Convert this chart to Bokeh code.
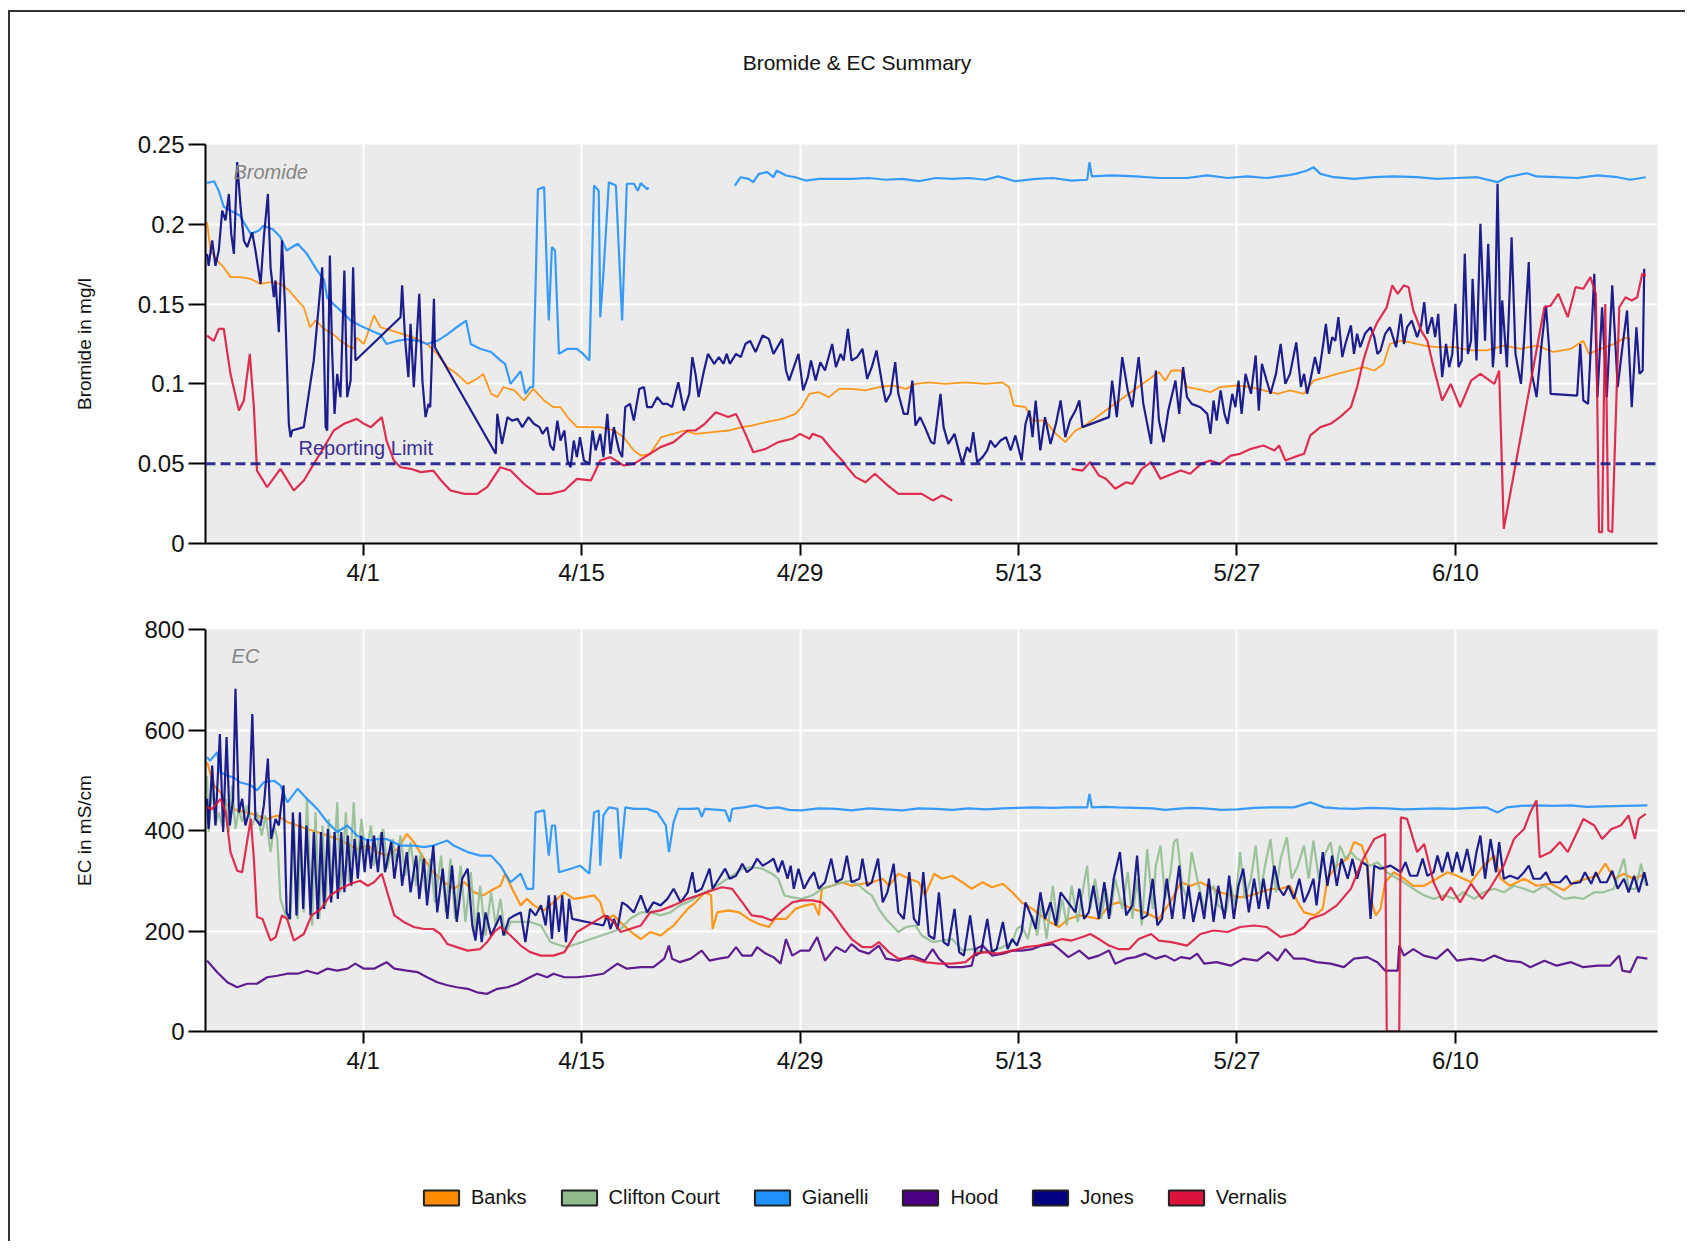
import numpy as np
from bokeh.plotting import figure
from bokeh.models import Range1d, FixedTicker, Span, Label, Legend, LegendItem, Div
from bokeh.layouts import column
from bokeh.embed import file_html
from bokeh.resources import INLINE

NAN = float("nan")

TITLE = "Bromide & EC Summary"
# x is measured in days after 3/22
X_TICKS = [10, 24, 38, 52, 66, 80]
X_LABELS = ["4/1", "4/15", "4/29", "5/13", "5/27", "6/10"]
BR_TICKS = [0, 0.05, 0.1, 0.15, 0.2, 0.25]
BR_LABELS = ["0", "0.05", "0.1", "0.15", "0.2", "0.25"]
EC_TICKS = [0, 200, 400, 600, 800]
EC_LABELS = ["0", "200", "400", "600", "800"]
REPORTING_LIMIT = 0.05
STATIONS = ["Banks", "Clifton Court", "Gianelli", "Hood", "Jones", "Vernalis"]
COLORS = ["#FF8C00", "#8FBC8F", "#1E90FF", "#4B0082", "#000080", "#DC143C"]

# ---------------- Bromide (mg/l): (day, value) ----------------
BR_BANKS = [(0,0.2013),(0.22,0.1836),(0.65,0.1773),(1.07,0.173),(1.5,0.1669),(2.15,0.1669),(2.8,0.1658),(3.4,0.1627),(4.07,0.1637),(4.7,0.1627),(5.25,0.1585),(5.8,0.1523),(6.2,0.148),(6.6,0.1355),(6.95,0.1397),(7.5,0.1345),(8.1,0.131),(8.55,0.127),(9.0,0.124),(9.4,0.122),(9.6,0.129),(10.05,0.125),(10.7,0.143),(11.1,0.1355),(11.8,0.1335),(12.6,0.131),(13.5,0.128),(14.1,0.125),(14.75,0.1188),(15.4,0.1105),(16.0,0.1063),(16.7,0.100),(17.3,0.1032),(17.7,0.1063),(18.2,0.0938),(18.6,0.0917),(19.0,0.098),(19.7,0.0959),(20.3,0.0896),(20.9,0.0969),(21.6,0.0896),(22.2,0.0854),(22.65,0.0854),(23.1,0.0792),(23.7,0.0729),(24.36,0.0729),(25.2,0.0729),(26.1,0.0708),(26.7,0.0666),(27.35,0.0583),(27.8,0.0551),(28.4,0.0562),(29.1,0.0666),(29.9,0.0687),(30.6,0.0708),(31.3,0.0687),(32.4,0.0698),(33.4,0.0708),(34.3,0.0729),(34.9,0.0739),(35.8,0.076),(36.86,0.0781),(37.7,0.0812),(38.1,0.0854),(38.6,0.0938),(39.2,0.0948),(39.85,0.0917),(40.5,0.0969),(41.3,0.0969),(42.2,0.0959),(43.05,0.098),(43.9,0.099),(44.8,0.0969),(45.4,0.100),(46.25,0.101),(47.3,0.100),(48.6,0.101),(49.9,0.100),(50.95,0.101),(51.4,0.098),(51.7,0.0865),(52.45,0.0854),(52.9,0.077),(53.7,0.077),(54.4,0.0687),(55.0,0.0635),(55.65,0.0708),(56.1,0.0729),(61.0,0.1074),(61.4,0.102),(61.8,0.1084),(62.4,0.1084),(62.8,0.098),(63.45,0.0969),(64.3,0.0948),(64.9,0.098),(66.0,0.099),(66.9,0.098),(67.7,0.0959),(68.6,0.0938),(69.4,0.0959),(70.3,0.0938),(70.9,0.102),(71.6,0.104),(72.4,0.1063),(73.3,0.1084),(74.1,0.1105),(74.8,0.1084),(75.4,0.1126),(75.8,0.125),(76.5,0.127),(77.1,0.126),(78.0,0.124),(78.8,0.123),(79.9,0.123),(81.0,0.121),(82.0,0.121),(83.1,0.124),(84.2,0.122),(85.2,0.124),(86.3,0.12),(87.4,0.122),(88.2,0.127),(88.55,0.1188),(89.3,0.122),(90.15,0.125),(90.9,0.129),(91.2,0.128)]

BR_GIANELLI = [(0,0.226),(0.45,0.227),(0.75,0.221),(1.07,0.211),(1.7,0.2076),(2.1,0.2055),(2.8,0.194),(3.3,0.196),(3.6,0.199),(4.2,0.197),(4.7,0.192),(5.1,0.1836),(5.8,0.1878),(6.4,0.1815),(7.06,0.171),(7.5,0.165),(7.7,0.154),(8.1,0.150),(8.55,0.146),(9.2,0.1397),(9.8,0.1366),(10.5,0.1335),(11.1,0.131),(11.5,0.125),(12.2,0.127),(12.8,0.128),(13.5,0.127),(14.1,0.125),(14.75,0.127),(15.4,0.131),(16.0,0.1355),(16.6,0.1397),(16.9,0.125),(17.5,0.122),(18.2,0.12),(18.8,0.1147),(19.1,0.1126),(19.45,0.100),(20.1,0.108),(20.4,0.0938),(20.7,0.098),(20.9,0.098),(21.2,0.222),(21.6,0.2233),(21.8,0.165),(21.9,0.1397),(22.1,0.1857),(22.3,0.1836),(22.55,0.1188),(23.1,0.122),(23.7,0.122),(24.1,0.1188),(24.5,0.1147),(24.8,0.2243),(25.1,0.221),(25.2,0.1418),(25.4,0.169),(25.75,0.2264),(26.2,0.2243),(26.4,0.1815),(26.6,0.1397),(26.9,0.2254),(27.35,0.2254),(27.6,0.221),(27.8,0.2258),(28.2,0.222),(28.3,0.223),(31.0,NAN),(33.82,0.2243),(34.2,0.2295),(34.7,0.2285),(35.0,0.2264),(35.36,0.2316),(35.9,0.2327),(36.3,0.2295),(36.5,0.2337),(37.1,0.2306),(37.7,0.2295),(38.35,0.2274),(39.2,0.2285),(40.3,0.2285),(41.3,0.2285),(42.4,0.229),(43.5,0.2279),(44.55,0.2285),(45.6,0.227),(46.7,0.229),(47.75,0.2285),(48.8,0.229),(49.9,0.2279),(50.7,0.23),(51.8,0.227),(53.1,0.2285),(54.2,0.229),(55.4,0.2274),(56.4,0.2279),(56.55,0.239),(56.7,0.23),(58.0,0.2306),(59.5,0.23),(61.0,0.229),(62.8,0.229),(64.1,0.2306),(65.4,0.229),(66.65,0.23),(67.9,0.229),(69.2,0.2306),(69.75,0.2316),(70.5,0.2337),(70.9,0.2358),(71.35,0.2316),(72.2,0.2295),(73.5,0.2285),(74.8,0.2295),(76.05,0.23),(77.55,0.2295),(78.8,0.2285),(80.1,0.229),(81.4,0.2295),(82.7,0.2264),(83.3,0.2295),(84.6,0.232),(85.2,0.23),(86.5,0.2295),(87.8,0.229),(89.1,0.2306),(90.4,0.2295),(91.2,0.2279),(92.2,0.2295)]

BR_JONES = [(0,0.1815),(0.1,0.174),(0.33,0.1899),(0.54,0.174),(0.75,0.1836),(0.97,0.2086),(1.18,0.2024),(1.4,0.219),(1.55,0.194),(1.72,0.1815),(1.93,0.239),(2.15,0.2107),(2.36,0.1899),(2.57,0.1857),(2.89,0.195),(3.1,0.1836),(3.43,0.1627),(3.64,0.1919),(3.9,0.219),(4.07,0.173),(4.28,0.1543),(4.39,0.1648),(4.6,0.1324),(4.8,0.1899),(5.0,0.148),(5.24,0.075),(5.35,0.0666),(5.46,0.0708),(6.2,0.0729),(6.84,0.1147),(7.38,0.173),(7.6,0.0729),(7.7,0.0708),(7.87,0.1805),(8.02,0.1188),(8.17,0.0812),(8.34,0.1063),(8.55,0.0917),(8.8,0.171),(8.98,0.0917),(9.2,0.1021),(9.36,0.173),(9.51,0.1147),(12.4,0.1418),(12.5,0.1617),(12.7,0.127),(12.9,0.1042),(13.04,0.1376),(13.25,0.098),(13.6,0.1564),(13.8,0.1021),(14.0,0.0792),(14.2,0.0875),(14.3,0.0854),(14.54,0.1533),(14.6,0.123),(18.5,0.0562),(18.6,0.0812),(18.9,0.0624),(19.25,0.0792),(19.55,0.077),(19.9,0.0781),(20.2,0.0729),(20.6,0.0792),(20.94,0.075),(21.3,0.0729),(21.5,0.0687),(21.8,0.0729),(22.0,0.0614),(22.2,0.0583),(22.45,0.077),(22.65,0.0645),(22.9,0.0708),(23.1,0.052),(23.3,0.0478),(23.5,0.0645),(23.7,0.0541),(23.9,0.0666),(24.15,0.052),(24.5,0.0499),(24.7,0.0708),(24.9,0.0583),(25.2,0.0687),(25.4,0.0541),(25.65,0.0812),(25.85,0.0562),(26.07,0.0729),(26.4,0.0583),(26.6,0.0541),(26.8,0.0854),(27.1,0.0875),(27.35,0.077),(27.7,0.0969),(28.0,0.098),(28.2,0.0854),(28.5,0.0854),(28.85,0.0917),(29.2,0.0875),(29.5,0.0875),(29.8,0.0854),(30.2,0.101),(30.55,0.0833),(30.9,0.0938),(31.1,0.1168),(31.3,0.1063),(31.5,0.0917),(31.8,0.1063),(32.1,0.1188),(32.5,0.1126),(32.8,0.1168),(33.1,0.1126),(33.3,0.1188),(33.5,0.1126),(33.9,0.1188),(34.2,0.1168),(34.5,0.125),(34.8,0.127),(35.15,0.1199),(35.6,0.1303),(36.0,0.1282),(36.3,0.1188),(36.86,0.1282),(37.1,0.1084),(37.3,0.1021),(37.6,0.1105),(37.9,0.1188),(38.2,0.0959),(38.5,0.1042),(38.7,0.1147),(39.0,0.1021),(39.3,0.1136),(39.6,0.1084),(40.06,0.125),(40.3,0.1105),(40.6,0.1188),(40.8,0.1147),(41.07,0.1345),(41.3,0.1147),(41.66,0.1168),(42.0,0.122),(42.3,0.1032),(42.6,0.1105),(42.9,0.1209),(43.3,0.098),(43.5,0.0886),(43.8,0.0938),(44.1,0.1136),(44.3,0.0938),(44.65,0.0812),(44.9,0.0812),(45.2,0.1021),(45.4,0.0739),(45.7,0.0792),(46.0,0.0729),(46.4,0.0635),(46.6,0.0624),(47.0,0.0938),(47.2,0.0729),(47.5,0.0624),(47.9,0.0687),(48.2,0.0572),(48.4,0.0499),(48.7,0.0604),(48.9,0.0572),(49.1,0.0698),(49.35,0.051),(49.7,0.0541),(50.0,0.0583),(50.2,0.0645),(50.5,0.0604),(50.85,0.0645),(51.2,0.0666),(51.5,0.0583),(51.8,0.0677),(52.2,0.052),(52.45,0.075),(52.7,0.0833),(52.9,0.0666),(53.1,0.0896),(53.4,0.0583),(53.7,0.0792),(54.05,0.0624),(54.4,0.075),(54.7,0.0896),(55.0,0.0666),(55.3,0.077),(55.65,0.0833),(55.9,0.0896),(56.1,0.0729),(57.8,0.0792),(58.0,0.1021),(58.3,0.0792),(58.65,0.1168),(59.0,0.0959),(59.3,0.0854),(59.7,0.1168),(60.0,0.0875),(60.5,0.0624),(60.8,0.1084),(61.0,0.077),(61.3,0.0635),(61.6,0.0833),(62.06,0.1021),(62.3,0.0812),(62.55,0.1105),(62.8,0.0917),(63.1,0.0875),(63.66,0.0854),(64.1,0.0812),(64.3,0.0687),(64.5,0.0896),(64.7,0.077),(64.95,0.0959),(65.2,0.0812),(65.4,0.075),(65.7,0.0938),(65.9,0.0854),(66.1,0.1021),(66.3,0.0812),(66.55,0.1063),(66.9,0.0938),(67.2,0.1178),(67.4,0.0833),(67.6,0.1126),(67.9,0.1021),(68.15,0.0938),(68.5,0.1063),(68.8,0.125),(69.1,0.100),(69.4,0.1063),(69.8,0.126),(70.1,0.098),(70.3,0.1063),(70.5,0.0938),(70.7,0.1021),(71.0,0.1168),(71.25,0.1063),(71.5,0.123),(71.7,0.1376),(71.9,0.1188),(72.1,0.1293),(72.3,0.127),(72.5,0.1418),(72.75,0.1168),(72.95,0.125),(73.3,0.1366),(73.5,0.1188),(73.7,0.1314),(73.9,0.123),(74.2,0.1314),(74.56,0.1355),(74.8,0.1293),(75.0,0.1188),(75.2,0.1209),(75.5,0.1314),(75.8,0.1355),(76.2,0.123),(76.5,0.1439),(76.7,0.125),(76.9,0.1355),(77.2,0.1397),(77.55,0.1293),(77.8,0.1366),(78.0,0.1512),(78.2,0.1314),(78.5,0.1418),(78.7,0.1293),(78.9,0.1439),(79.15,0.1042),(79.4,0.125),(79.6,0.1105),(79.8,0.1188),(80.0,0.1502),(80.2,0.1105),(80.4,0.1147),(80.6,0.1815),(80.8,0.1188),(81.0,0.127),(81.1,0.1658),(81.35,0.1147),(81.6,0.2003),(81.9,0.127),(82.1,0.1878),(82.4,0.1105),(82.5,0.123),(82.7,0.2254),(82.9,0.1188),(83.0,0.1523),(83.3,0.1105),(83.6,0.1919),(83.85,0.1188),(84.2,0.100),(84.4,0.127),(84.7,0.1763),(84.9,0.1063),(85.2,0.0917),(85.5,0.123),(85.8,0.1491),(86.0,0.123),(86.1,0.0938),(87.8,0.0927),(88.0,0.125),(88.2,0.0896),(88.5,0.0875),(88.9,0.169),(89.1,0.0917),(89.4,0.148),(89.7,0.0917),(90.05,0.1617),(90.4,0.098),(90.7,0.123),(91.0,0.146),(91.3,0.0854),(91.6,0.1355),(91.8,0.1063),(92.0,0.1084),(92.1,0.1721)]

BR_VERNALIS = [(0,0.1303),(0.43,0.127),(0.75,0.1345),(1.07,0.1345),(1.5,0.1063),(2.04,0.0833),(2.36,0.0896),(2.74,0.1188),(3.0,0.0854),(3.2,0.0457),(3.85,0.0353),(4.7,0.0468),(5.56,0.0332),(6.2,0.0395),(6.84,0.0499),(7.5,0.0604),(8.12,0.0708),(8.77,0.075),(9.6,0.0781),(10.05,0.075),(10.5,0.0729),(11.2,0.0792),(11.5,0.0645),(11.97,0.052),(12.4,0.0478),(13.04,0.0468),(13.7,0.0447),(14.5,0.0457),(15.0,0.0395),(15.6,0.0332),(16.5,0.0311),(17.3,0.0311),(17.95,0.0353),(18.8,0.0478),(19.45,0.0457),(20.3,0.0374),(21.15,0.0311),(22.0,0.0311),(22.9,0.0332),(23.7,0.0405),(24.6,0.0395),(25.2,0.052),(25.85,0.0541),(26.7,0.0489),(27.35,0.0499),(28.2,0.0551),(29.06,0.0604),(29.9,0.0635),(30.8,0.0708),(31.3,0.0708),(31.9,0.075),(32.6,0.0823),(33.4,0.0792),(33.9,0.0812),(34.5,0.0687),(35.0,0.0572),(35.8,0.0593),(36.6,0.0635),(37.5,0.0656),(38.0,0.0687),(38.6,0.0656),(38.8,0.0687),(39.4,0.0666),(40.1,0.0583),(40.7,0.052),(41.1,0.0468),(41.56,0.0416),(42.2,0.0384),(42.8,0.0437),(43.5,0.0374),(44.3,0.0311),(45.2,0.0311),(45.8,0.0311),(46.5,0.027),(47.1,0.0301),(47.75,0.027),(51.5,NAN),(55.4,0.0468),(56.1,0.0457),(56.6,0.051),(57.15,0.0426),(57.6,0.0405),(58.2,0.0343),(58.9,0.0384),(59.3,0.0374),(59.9,0.0468),(60.5,0.051),(61.1,0.0405),(61.6,0.0426),(62.4,0.0457),(63.0,0.0437),(63.7,0.0499),(64.3,0.052),(64.9,0.0499),(65.6,0.0551),(66.2,0.0562),(66.9,0.0593),(67.7,0.0614),(68.4,0.0583),(68.7,0.0614),(69.1,0.052),(69.65,0.0541),(70.3,0.0562),(70.7,0.0677),(71.35,0.0729),(72.0,0.075),(72.6,0.0792),(73.3,0.0854),(73.7,0.098),(74.1,0.1147),(74.56,0.1293),(75.0,0.1387),(75.6,0.148),(75.95,0.1617),(76.3,0.1564),(76.7,0.1617),(77.0,0.1606),(77.3,0.146),(77.8,0.1335),(78.2,0.127),(78.6,0.1105),(79.15,0.0896),(79.7,0.100),(80.3,0.0854),(81.0,0.102),(81.6,0.1063),(82.5,0.100),(82.8,0.1084),(83.1,0.0092),(85.7,0.148),(86.1,0.149),(86.6,0.1564),(87.2,0.1418),(87.7,0.1606),(88.2,0.1596),(88.65,0.1669),(89.0,0.1564),(89.2,0.0071),(89.4,0.0071),(89.6,0.150),(89.8,0.0081),(90.05,0.0071),(90.5,0.148),(90.9,0.1543),(91.3,0.1523),(91.65,0.1543),(91.97,0.169),(92.2,0.168)]

# ---------------- EC (mS/cm): (day, value) ----------------
EC_BANKS = [(0,536),(0.43,490),(0.86,476),(1.3,450),(1.93,440),(2.57,436),(3.2,430),(3.85,423),(4.5,430),(5.13,417),(5.8,410),(6.4,403),(7.06,397),(7.7,390),(8.34,383),(9.0,373),(9.6,363),(10.3,370),(10.9,357),(11.5,350),(12.2,363),(12.8,393),(13.25,377),(13.9,344),(14.5,317),(15.2,297),(15.8,284),(16.5,297),(17.1,277),(17.7,271),(18.4,284),(18.8,290),(19.1,314),(19.55,284),(20.1,251),(20.5,264),(20.94,251),(21.6,241),(22.2,257),(22.9,277),(23.5,264),(24.15,267),(24.8,271),(25.2,257),(25.5,224),(26.07,231),(26.7,211),(27.35,194),(27.8,184),(28.4,198),(29.06,191),(29.9,211),(30.8,244),(31.3,257),(31.9,277),(32.3,271),(32.4,204),(32.7,237),(33.4,241),(34.1,237),(34.7,224),(35.36,214),(36.0,208),(36.4,224),(37.1,224),(37.7,244),(38.35,251),(38.9,254),(39.2,231),(39.4,284),(40.06,290),(40.7,297),(41.3,290),(42.0,294),(42.6,297),(43.3,304),(43.7,290),(44.3,314),(45.0,304),(45.6,297),(46.0,271),(46.6,314),(47.1,304),(47.75,310),(48.4,297),(49.0,284),(49.7,297),(50.3,287),(51.0,294),(51.6,277),(52.2,257),(52.9,244),(53.3,234),(54.0,218),(54.6,208),(55.2,224),(55.9,231),(56.5,228),(57.15,224),(57.8,251),(58.4,257),(59.3,244),(60.1,237),(61.0,224),(61.85,264),(62.4,297),(63.0,290),(63.66,297),(64.3,287),(64.9,277),(65.6,271),(66.2,267),(66.9,271),(67.5,277),(68.2,284),(68.8,284),(69.4,290),(69.9,257),(70.3,237),(71.0,231),(71.5,244),(71.8,304),(72.4,330),(73.1,344),(73.5,377),(74.0,370),(74.35,337),(74.56,264),(74.9,231),(75.2,244),(75.5,297),(76.05,317),(76.7,304),(77.3,290),(77.97,290),(78.8,304),(79.5,317),(80.1,310),(81.0,297),(81.8,330),(82.5,350),(82.9,304),(83.5,290),(84.4,304),(85.2,290),(86.1,294),(86.95,281),(87.6,297),(88.4,304),(89.1,310),(89.6,334),(90.2,304),(90.8,314),(91.4,304),(92.2,314)]

EC_CLIFTON = [(0,509),(0.1,397),(0.33,490),(0.54,410),(0.75,436),(0.97,410),(1.2,463),(1.4,397),(1.6,490),(1.82,403),(2.04,443),(2.25,417),(2.57,450),(2.89,410),(3.2,436),(3.5,390),(3.75,430),(4.07,357),(4.3,410),(4.5,383),(4.7,264),(4.9,244),(5.13,224),(5.35,224),(5.56,423),(5.8,224),(6.0,383),(6.2,237),(6.4,463),(6.74,211),(6.95,436),(7.2,224),(7.4,410),(7.6,251),(7.8,423),(8.0,264),(8.34,456),(8.55,277),(8.9,436),(9.1,297),(9.4,456),(9.6,330),(9.9,423),(10.15,344),(10.5,410),(10.7,330),(11.0,383),(11.3,403),(11.55,324),(11.9,383),(12.1,337),(12.4,390),(12.7,310),(13.04,377),(13.4,290),(13.7,357),(14.0,277),(14.3,344),(14.6,257),(15.0,350),(15.3,237),(15.6,344),(15.9,224),(16.25,330),(16.56,218),(16.9,317),(17.2,198),(17.5,290),(17.85,191),(18.2,277),(18.5,211),(18.8,264),(19.1,191),(19.45,218),(20.1,218),(20.7,218),(21.4,211),(22.0,178),(22.65,171),(23.1,168),(26.5,204),(27.1,224),(27.8,237),(28.4,237),(29.06,231),(29.7,237),(30.3,251),(31.0,260),(31.5,271),(32.4,284),(33.0,297),(33.65,310),(34.3,324),(34.9,327),(35.6,324),(36.2,314),(36.6,304),(37.0,271),(37.5,267),(38.1,264),(38.8,271),(39.4,284),(40.06,290),(40.7,297),(41.3,300),(41.8,290),(42.3,277),(42.6,271),(43.05,244),(43.5,224),(43.9,211),(44.3,198),(44.8,208),(45.4,211),(45.8,191),(46.5,178),(47.1,181),(47.75,184),(48.4,161),(49.0,164),(49.7,158),(50.3,161),(51.0,168),(51.6,178),(51.9,204),(52.2,211),(52.6,184),(52.9,231),(53.2,191),(53.5,257),(53.8,184),(54.2,290),(54.5,211),(54.8,264),(55.1,211),(55.4,290),(55.8,218),(56.1,277),(56.4,330),(56.6,244),(56.9,304),(57.3,224),(57.6,284),(57.9,231),(58.2,304),(58.65,244),(59.0,317),(59.3,224),(59.6,304),(59.9,211),(60.25,363),(60.6,244),(60.8,330),(61.1,370),(61.4,264),(61.75,317),(61.96,377),(62.17,383),(62.5,290),(62.8,264),(63.1,357),(63.45,304),(63.9,244),(64.2,277),(64.5,290),(64.8,251),(65.3,237),(65.6,290),(65.9,251),(66.2,357),(66.5,264),(66.9,304),(67.2,370),(67.5,277),(67.8,330),(68.15,383),(68.5,277),(68.8,344),(69.2,387),(69.5,304),(69.9,330),(70.3,370),(70.6,304),(70.9,380),(71.25,304),(71.6,350),(72.0,377),(72.3,317),(72.6,370),(72.95,344),(73.3,357),(73.7,344),(74.1,337),(74.56,330),(75.0,337),(75.6,317),(76.3,304),(76.7,297),(77.3,284),(77.97,271),(78.6,264),(79.3,271),(79.9,264),(80.5,277),(81.2,264),(81.8,277),(82.5,284),(83.1,277),(83.75,290),(84.4,284),(85.0,277),(85.7,290),(86.3,277),(86.95,264),(87.6,267),(88.2,264),(88.9,277),(89.5,277),(90.15,284),(90.8,344),(91.1,284),(91.55,284),(91.9,334),(92.2,290)]

EC_GIANELLI = [(0,546),(0.2,539),(0.65,556),(0.86,516),(1.3,509),(1.7,506),(2.1,496),(2.8,490),(3.2,480),(3.64,496),(4.3,499),(4.7,490),(5.15,456),(5.8,483),(6.4,463),(7.06,443),(7.7,417),(8.34,397),(9.0,410),(9.6,390),(10.3,380),(10.9,383),(11.5,383),(12.4,370),(13.25,370),(13.9,367),(14.5,370),(15.4,380),(15.8,370),(16.7,357),(17.5,350),(18.2,350),(18.8,330),(19.45,297),(20.1,314),(20.5,284),(20.9,284),(21.05,436),(21.6,440),(21.9,350),(22.1,410),(22.3,410),(22.55,317),(23.3,324),(23.9,330),(24.5,314),(24.8,436),(25.1,440),(25.2,330),(25.4,430),(25.75,446),(26.3,443),(26.5,344),(26.8,446),(27.35,443),(28.2,443),(28.85,436),(29.4,410),(29.6,357),(29.9,417),(30.2,443),(31.0,443),(31.5,444),(31.7,427),(31.9,443),(33.2,440),(33.5,417),(33.65,443),(34.4,446),(35.15,450),(35.9,444),(36.6,446),(37.3,441),(38.1,440),(39.2,444),(40.3,443),(41.3,440),(42.4,444),(43.5,442),(44.55,440),(45.6,444),(46.7,443),(47.75,441),(48.8,444),(49.9,442),(51.0,444),(52.0,445),(53.1,446),(54.2,445),(55.2,446),(56.4,446),(56.55,473),(56.7,446),(57.5,447),(58.4,446),(59.5,445),(60.6,444),(61.4,441),(62.1,443),(63.0,445),(63.9,444),(65.0,441),(66.0,442),(67.1,445),(68.2,446),(69.65,446),(70.7,456),(71.6,446),(72.5,444),(73.5,443),(74.5,445),(75.6,444),(76.7,442),(77.8,443),(78.9,444),(79.9,443),(81.0,445),(82.0,446),(82.7,436),(83.3,446),(84.2,449),(85.2,450),(86.3,449),(87.4,450),(88.4,447),(89.5,448),(90.9,449),(92.3,450)]

EC_HOOD = [(0,141),(0.65,118),(1.3,98),(1.93,88),(2.57,95),(3.2,95),(3.85,108),(4.5,111),(5.13,115),(5.8,115),(6.4,121),(7.06,115),(7.7,125),(8.34,121),(9.0,125),(9.5,135),(10.05,125),(10.7,125),(11.5,138),(12.0,125),(12.8,121),(13.5,118),(14.1,108),(14.75,98),(15.4,92),(16.0,88),(16.7,85),(17.3,78),(17.95,75),(18.6,85),(19.25,88),(19.9,95),(20.5,105),(21.15,115),(21.8,108),(22.2,115),(22.9,108),(23.7,108),(24.6,111),(25.4,115),(26.3,135),(26.9,125),(27.8,128),(28.6,128),(29.3,145),(29.6,171),(29.8,145),(30.3,138),(31.0,145),(31.7,161),(32.2,141),(32.8,145),(33.4,148),(33.9,168),(34.3,151),(34.9,151),(35.25,168),(35.8,155),(36.3,148),(36.75,135),(37.1,184),(37.5,151),(38.03,161),(38.6,161),(39.1,188),(39.6,141),(40.3,168),(40.9,158),(41.3,174),(41.8,161),(42.4,155),(43.05,171),(43.5,145),(44.3,141),(45.2,151),(46.0,141),(46.5,164),(46.9,145),(47.5,128),(48.4,128),(49.0,131),(49.25,164),(49.7,171),(50.3,151),(51.0,155),(51.6,161),(52.2,161),(52.9,164),(53.5,171),(54.2,174),(54.6,164),(55.2,148),(55.9,161),(56.5,145),(57.15,151),(57.8,161),(58.2,135),(58.9,145),(59.5,148),(60.1,155),(60.8,145),(61.4,151),(62.0,141),(62.4,148),(63.0,145),(63.45,155),(63.9,135),(64.7,138),(65.6,131),(66.4,145),(67.3,141),(68.0,158),(68.6,141),(69.1,164),(69.65,145),(70.3,145),(71.1,138),(72.0,135),(72.85,128),(73.5,145),(74.35,148),(75.0,138),(75.5,121),(76.3,121),(76.4,171),(76.7,151),(77.3,164),(77.97,151),(78.8,145),(79.5,164),(80.1,141),(81.0,145),(81.8,141),(82.5,151),(83.3,141),(84.2,138),(84.8,128),(85.7,141),(86.5,131),(87.4,138),(88.2,128),(89.1,131),(89.9,131),(90.5,151),(90.7,121),(91.2,118),(91.65,148),(92.3,145)]

EC_JONES = [(0,463),(0.1,403),(0.33,529),(0.54,410),(0.82,592),(1.03,397),(1.25,586),(1.46,410),(1.67,463),(1.82,682),(2.04,436),(2.25,463),(2.46,410),(2.68,436),(2.9,632),(3.1,423),(3.43,410),(3.64,450),(3.9,543),(4.1,383),(4.39,423),(4.6,410),(4.9,490),(5.1,237),(5.3,224),(5.5,436),(5.73,231),(5.95,436),(6.16,244),(6.37,410),(6.63,231),(6.84,397),(7.1,224),(7.3,397),(7.5,244),(7.74,403),(7.95,257),(8.17,397),(8.38,264),(8.6,397),(8.8,277),(9.02,390),(9.24,290),(9.45,383),(9.66,304),(9.88,390),(10.1,317),(10.3,383),(10.5,324),(10.7,390),(10.95,317),(11.2,397),(11.4,317),(11.8,377),(12.0,304),(12.3,370),(12.5,290),(12.8,357),(13.04,277),(13.4,350),(13.6,264),(13.9,344),(14.1,251),(14.5,370),(14.75,237),(15.1,324),(15.4,224),(15.7,330),(16.0,218),(16.35,304),(16.7,324),(17.0,211),(17.2,181),(17.4,237),(17.6,178),(17.85,237),(18.2,191),(18.5,211),(18.8,231),(19.0,191),(19.35,224),(19.7,231),(20.1,237),(20.4,178),(20.7,244),(21.05,231),(21.4,251),(21.7,211),(21.9,271),(22.1,184),(22.3,271),(22.55,198),(22.76,271),(23.0,178),(23.2,264),(23.4,224),(25.4,211),(25.65,231),(25.85,204),(26.07,224),(26.3,204),(26.6,257),(26.9,251),(27.35,237),(27.8,271),(28.2,237),(28.6,257),(29.06,251),(29.5,264),(29.9,284),(30.35,257),(30.8,277),(31.1,317),(31.3,277),(31.7,284),(32.2,324),(32.4,284),(32.8,304),(33.2,324),(33.5,304),(33.9,310),(34.3,334),(34.6,317),(34.9,324),(35.25,344),(35.6,330),(36.0,337),(36.3,344),(36.6,317),(36.86,340),(37.2,304),(37.4,330),(37.6,284),(37.9,324),(38.25,284),(38.6,304),(38.9,317),(39.2,284),(39.6,297),(40.0,344),(40.3,297),(40.7,304),(41.0,350),(41.3,297),(41.8,304),(42.0,344),(42.3,290),(42.6,297),(43.0,344),(43.3,257),(43.6,277),(44.0,334),(44.3,237),(44.65,224),(45.0,317),(45.3,224),(45.6,211),(45.9,317),(46.25,191),(46.6,184),(46.9,277),(47.2,178),(47.5,171),(47.9,244),(48.2,158),(48.5,151),(48.9,231),(49.25,151),(49.6,158),(50.0,224),(50.3,158),(50.6,164),(51.0,218),(51.3,164),(51.6,184),(51.9,171),(52.2,198),(52.45,257),(52.8,231),(53.1,204),(53.4,277),(53.7,224),(54.05,257),(54.4,211),(54.7,277),(55.65,237),(55.9,284),(56.2,224),(56.5,237),(56.8,290),(57.15,224),(57.5,297),(57.8,224),(58.1,304),(58.5,357),(58.9,231),(59.3,251),(59.6,350),(59.9,224),(60.25,231),(60.6,304),(60.9,211),(61.2,224),(61.5,304),(61.85,224),(62.3,330),(62.6,224),(62.9,290),(63.2,218),(63.6,277),(63.9,224),(64.2,304),(64.5,218),(64.8,290),(65.2,224),(65.5,310),(65.8,224),(66.1,290),(66.4,324),(66.76,237),(67.1,304),(67.4,244),(67.7,304),(68.0,244),(68.4,330),(68.7,284),(69.0,271),(69.3,290),(69.65,264),(70.0,304),(70.3,257),(70.6,277),(70.9,304),(71.1,251),(71.5,357),(71.8,290),(72.1,350),(72.4,290),(72.7,344),(73.1,304),(73.4,344),(73.7,304),(74.0,337),(74.35,330),(74.56,224),(74.8,330),(75.2,324),(75.85,330),(76.5,317),(76.8,337),(77.1,310),(77.55,310),(77.9,344),(78.2,310),(78.6,317),(78.85,350),(79.15,317),(79.5,357),(79.8,317),(80.1,357),(80.4,317),(80.75,363),(81.1,310),(81.35,357),(81.6,390),(81.9,304),(82.25,383),(82.6,317),(82.8,377),(83.1,304),(83.5,310),(84.0,304),(84.4,317),(84.7,330),(85.0,304),(85.45,304),(85.8,317),(86.1,297),(86.7,297),(87.1,310),(87.4,294),(88.0,297),(88.3,317),(88.7,294),(89.0,317),(89.3,297),(89.7,297),(90.05,320),(90.4,284),(90.8,304),(91.1,277),(91.45,310),(91.75,277),(92.1,317),(92.3,290)]

EC_VERNALIS = [(0,446),(0.33,443),(0.86,463),(1.2,436),(1.5,357),(1.93,320),(2.25,317),(2.8,423),(3.0,344),(3.2,228),(3.55,224),(4.07,181),(4.4,188),(4.8,231),(5.13,224),(5.56,181),(6.2,194),(6.7,231),(7.3,244),(7.9,271),(8.55,284),(9.2,294),(9.8,300),(10.3,290),(10.7,297),(11.2,314),(11.55,277),(12.0,231),(12.6,218),(13.25,208),(13.9,204),(14.5,204),(14.96,194),(15.4,174),(16.0,168),(16.7,161),(17.5,164),(17.95,178),(18.4,198),(18.8,208),(19.45,191),(20.1,171),(20.7,158),(21.4,151),(22.2,151),(22.9,158),(23.7,198),(25.5,231),(26.07,218),(26.5,198),(27.1,204),(27.8,211),(28.4,237),(29.06,241),(29.9,251),(30.8,264),(31.5,271),(32.4,281),(33.0,287),(33.65,284),(34.3,257),(34.9,231),(35.6,228),(36.2,221),(36.86,241),(37.5,257),(38.1,261),(38.8,261),(39.4,257),(40.06,237),(40.7,208),(41.3,184),(42.0,168),(42.6,168),(43.05,178),(43.7,158),(44.3,145),(45.2,145),(46.0,138),(46.9,135),(47.75,135),(48.6,138),(49.25,155),(49.9,158),(50.7,155),(51.6,161),(52.45,168),(53.3,171),(54.2,178),(54.8,184),(55.4,181),(56.1,188),(56.6,194),(57.15,184),(57.8,171),(58.4,164),(59.1,164),(59.7,184),(60.5,194),(61.0,181),(61.8,178),(62.8,171),(63.66,194),(64.5,201),(65.4,198),(66.2,208),(67.1,211),(67.9,208),(68.8,188),(69.65,194),(70.3,208),(70.7,224),(71.6,234),(72.4,251),(73.3,284),(74.1,344),(74.8,383),(75.5,393),(75.6,0),(76.4,0),(76.5,426),(76.9,423),(77.55,357),(78.0,373),(78.6,297),(79.15,261),(79.7,287),(80.3,257),(81.0,294),(81.7,264),(82.25,287),(83.1,330),(83.75,383),(84.4,403),(84.8,436),(85.2,460),(85.4,347),(86.1,357),(86.7,377),(87.2,357),(87.7,390),(88.2,423),(88.9,410),(89.4,383),(90.0,403),(90.6,410),(91.1,430),(91.5,383),(91.75,423),(92.2,433)]

BROMIDE = {"Banks": BR_BANKS, "Gianelli": BR_GIANELLI, "Jones": BR_JONES, "Vernalis": BR_VERNALIS}
EC = {"Banks": EC_BANKS, "Clifton Court": EC_CLIFTON, "Gianelli": EC_GIANELLI,
      "Hood": EC_HOOD, "Jones": EC_JONES, "Vernalis": EC_VERNALIS}

FONT = "Liberation Sans"
COLOR_OF = dict(zip(STATIONS, COLORS))
FULL_W = 1675


def unzip(pairs):
    arr = np.array(pairs, dtype=float)
    return arr[:, 0], arr[:, 1]


def make_fig(y_end, ticks, labels, ylabel, frame_h, mb_top, mb_bottom, label_standoff):
    p = figure(frame_width=1452, frame_height=frame_h,
               x_range=Range1d(-0.1, 92.95), y_range=Range1d(0, y_end),
               output_backend="svg", toolbar_location=None,
               min_border_left=195, min_border_right=28,
               min_border_top=mb_top, min_border_bottom=mb_bottom,
               background_fill_color="#EBEBEB", border_fill_color="white",
               outline_line_color=None)
    p.xaxis.ticker = FixedTicker(ticks=X_TICKS)
    p.xaxis.major_label_overrides = {t: l for t, l in zip(X_TICKS, X_LABELS)}
    p.yaxis.ticker = FixedTicker(ticks=ticks)
    p.yaxis.major_label_overrides = {t: l for t, l in zip(ticks, labels)}
    p.xgrid.ticker = FixedTicker(ticks=X_TICKS)
    p.ygrid.ticker = FixedTicker(ticks=ticks)
    p.grid.grid_line_color = "white"
    p.grid.grid_line_width = 2
    for ax in (p.xaxis[0], p.yaxis[0]):
        ax.axis_line_color = "black"
        ax.axis_line_width = 2
        ax.major_tick_line_color = "black"
        ax.major_tick_line_width = 2
        ax.minor_tick_line_color = None
        ax.major_tick_in = 0
        ax.major_label_text_font = FONT
        ax.major_label_text_font_size = "24px"
        ax.major_label_text_color = "#111111"
    p.xaxis.major_tick_out = 12
    p.yaxis.major_tick_out = 17
    p.xaxis.major_label_standoff = 3
    p.yaxis.major_label_standoff = 4
    p.yaxis.axis_label = ylabel
    p.yaxis.axis_label_text_font = FONT
    p.yaxis.axis_label_text_font_size = "19px"
    p.yaxis.axis_label_text_font_style = "normal"
    p.yaxis.axis_label_text_color = "#111111"
    p.yaxis.axis_label_standoff = label_standoff
    return p


title_div = Div(text=('<div style="width:%dpx;box-sizing:border-box;padding-left:19px;text-align:center;'
                      'font-family:\'Liberation Sans\';font-size:21px;color:#111;padding-top:36px;">'
                      'Bromide &amp; EC Summary</div>') % FULL_W,
                width=FULL_W, height=98, margin=0)

# ---------- Bromide panel ----------
p1 = make_fig(0.25, BR_TICKS, BR_LABELS, "Bromide in mg/l", 399, 34, 47, 40)
for name in STATIONS:
    if name in BROMIDE:
        xs, ys = unzip(BROMIDE[name])
        p1.line(xs, ys, line_color=COLOR_OF[name], line_width=1.8 if name == "Banks" else 2.2,
                line_alpha=0.88)
p1.add_layout(Span(location=REPORTING_LIMIT, dimension="width", line_color="#1a1a8c",
                   line_width=3, line_dash="10 5", line_alpha=0.9))
p1.add_layout(Label(x=5.86, y=REPORTING_LIMIT, y_offset=5, text="Reporting Limit",
                    text_font=FONT, text_font_size="20px", text_color="#3B2E94",
                    text_baseline="bottom"))
p1.add_layout(Label(x=1.69, y=0.233, text="Bromide", text_font=FONT, text_font_size="20px",
                    text_font_style="italic", text_color="#858585", text_baseline="middle"))

# ---------- EC panel ----------
p2 = make_fig(800, EC_TICKS, EC_LABELS, "EC in mS/cm", 402, 39, 50, 46)
for name in STATIONS:
    xs, ys = unzip(EC[name])
    p2.line(xs, ys, line_color=COLOR_OF[name], line_width=2.2, line_alpha=0.88)
p2.add_layout(Label(x=1.57, y=748, text="EC", text_font=FONT, text_font_size="20px",
                    text_font_style="italic", text_color="#858585", text_baseline="middle"))

# ---------- legend strip (swatches are legend proxies; their one row has no position) ----------
pl = figure(frame_width=1452, frame_height=160, output_backend="svg", toolbar_location=None,
            x_axis_type=None, y_axis_type=None, min_border=0,
            min_border_left=195, min_border_right=28,
            outline_line_color=None, background_fill_color="white", border_fill_color="white",
            x_range=Range1d(0, 1), y_range=Range1d(0, 1))
pl.grid.visible = False
items = []
for name in STATIONS:
    r = pl.quad(left=[NAN], right=[NAN], top=[NAN], bottom=[NAN], fill_color=COLOR_OF[name],
                line_color="#222222", line_width=2)
    items.append(LegendItem(label=name, renderers=[r]))
legend = Legend(items=items, orientation="horizontal", location=(214, 32),
                glyph_width=44, glyph_height=19, label_standoff=8, spacing=30,
                padding=0, margin=0, border_line_alpha=0, background_fill_alpha=0,
                label_text_font=FONT, label_text_font_size="20px",
                label_text_color="#111111")
pl.add_layout(legend)

layout = column(title_div, p1, p2, pl, spacing=0, margin=(10, 0, 0, 8),
                styles={"border-top": "2px solid #333", "border-left": "2px solid #333"})

open("out.html", "w").write(file_html(layout, INLINE))
